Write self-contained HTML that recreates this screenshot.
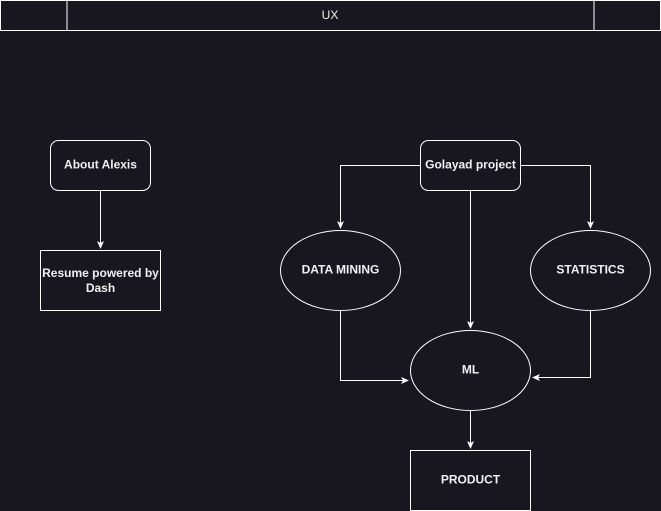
<!DOCTYPE html>
<html><head><style>
html,body{margin:0;padding:0;background:#18171f;}
svg{display:block}
text{font-family:"Liberation Sans",sans-serif;font-size:12px;fill:#f0f0f0;text-anchor:middle;dominant-baseline:central;font-weight:bold}
text.n{font-weight:normal}
</style></head><body>
<svg width="661" height="511" viewBox="0 0 661 511">
<defs><marker id="a" markerWidth="8" markerHeight="8" refX="7" refY="4" orient="auto" markerUnits="userSpaceOnUse"><path d="M0,0.5 L8,4 L0,7.5 L2,4 Z" fill="#fff"/></marker></defs>
<g fill="none" stroke="#fff" stroke-width="1">
<rect x="0.5" y="0.5" width="660" height="30"/>
<line x1="67" y1="0.5" x2="67" y2="30.5"/>
<line x1="594" y1="0.5" x2="594" y2="30.5"/>
<rect x="50.5" y="140.5" width="100" height="50" rx="8"/>
<rect x="40.5" y="250.5" width="120" height="60"/>
<rect x="420.5" y="140.5" width="100" height="50" rx="8"/>
<ellipse cx="340.5" cy="270.5" rx="60" ry="40"/>
<ellipse cx="590.5" cy="270.5" rx="60" ry="40"/>
<ellipse cx="470.5" cy="370.5" rx="60" ry="40"/>
<rect x="410.5" y="450.5" width="120" height="60"/>
<path d="M100.5,190.5 V248" marker-end="url(#a)"/>
<path d="M420.5,165.5 H340.5 V228" marker-end="url(#a)"/>
<path d="M520.5,165.5 H590.5 V228" marker-end="url(#a)"/>
<path d="M470.5,190.5 V328" marker-end="url(#a)"/>
<path d="M340.5,310.5 V380.5 H408" marker-end="url(#a)"/>
<path d="M590.5,310.5 V377.5 H533" marker-end="url(#a)"/>
<path d="M470.5,410.5 V448" marker-end="url(#a)"/>
</g>
<text class="n" x="330" y="15">UX</text>
<text x="100.5" y="164.5">About Alexis</text>
<text x="100.5" y="273">Resume powered by</text>
<text x="100.5" y="288">Dash</text>
<text x="470.5" y="164.5">Golayad project</text>
<text x="340.5" y="269.5">DATA MINING</text>
<text x="590.5" y="269.5">STATISTICS</text>
<text x="470.5" y="369.5">ML</text>
<text x="470.5" y="479.5">PRODUCT</text>
</svg>
</body></html>
